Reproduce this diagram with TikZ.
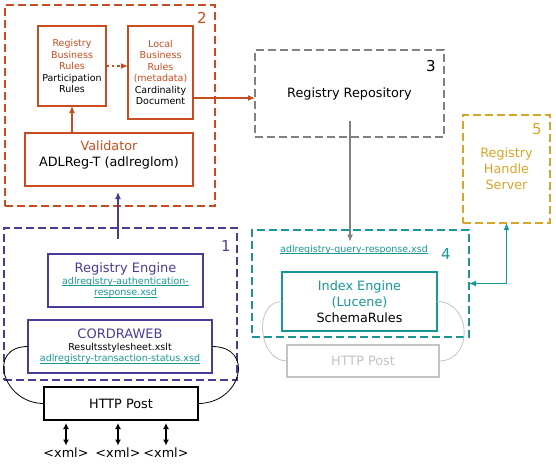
\documentclass[tikz,border=0pt]{standalone}
\usepackage{fontspec}
\setmainfont{DejaVu Sans}
\usetikzlibrary{arrows.meta}
\definecolor{rust}{RGB}{200,76,30}
\definecolor{navy}{RGB}{70,62,150}
\definecolor{sea}{RGB}{25,150,150}
\definecolor{gold}{RGB}{215,165,40}
\definecolor{ash}{RGB}{128,128,128}
\definecolor{mist}{RGB}{195,195,195}
\newcommand{\lnk}[1]{{\color{sea}\setbox0\hbox{#1}\rlap{\rule[-1.4pt]{\wd0}{.55pt}}\box0}}
\newcommand{\blk}{\color{black}}
\newcommand{\hd}{\fontsize{13}{16}\selectfont}
\begin{document}
\begin{tikzpicture}[x=1pt,y=-1pt,line width=1.1pt,
    sm/.style={font=\fontsize{9.5}{11.5}\selectfont,align=center},
    md/.style={font=\fontsize{12.8}{16}\selectfont,align=center},
    num/.style={font=\fontsize{15}{15}\selectfont},
    grp/.style={draw=#1,dash pattern=on 8pt off 4pt,line width=1.2pt,inner sep=0pt,outer sep=0pt},
    box/.style={draw=#1,inner sep=0pt,outer sep=0pt},
    tip/.style={-{Latex[length=7pt,width=6pt]}}]

      \useasboundingbox (0,0) rectangle (556,463);

      % group 2
      \path (110,105.5) node[grp=rust,minimum width=210pt,minimum height=201pt] (b2) {};
      \path (202,18) node[num,text=rust] (n2) {2};
      \path (72,66) node[box=rust,sm,text=rust,minimum width=68pt,minimum height=80pt] (rb)
            {Registry\\Business\\Rules\\\blk Participation\\\blk Rules};
      \path (160.5,72.5) node[box=rust,sm,text=rust,minimum width=65pt,minimum height=93pt] (lb)
            {Local\\Business\\Rules\\(metadata)\\\blk Cardinality\\\blk Document};
      \path (109,159.5) node[box=rust,minimum width=168pt,minimum height=53pt] (va) {};
      \path (109,155) node[md,text=rust] (vt) {Validator\\\blk ADLReg-T (adlreglom)};

      % group 3
      \path (349.5,93.5) node[grp=ash,md,minimum width=189pt,minimum height=87pt] (b3) {Registry Repository};
      \path (431,66) node[num] (n3) {3};

      % group 5
      \path (506.5,169) node[grp=gold,md,text=gold,minimum width=87pt,minimum height=108pt] (b5) {Registry\\Handle\\Server};
      \path (537,129) node[num,text=gold] (n5) {5};

      % group 4
      \path (360.5,283.5) node[grp=sea,minimum width=217pt,minimum height=107pt] (b4) {};
      \path (446,254) node[num,text=sea] (n4) {4};
      \path (354,250) node[sm] (q) {\lnk{adlregistry-query-response.xsd}};
      \path (359.5,301.5) node[box=sea,md,text=sea,minimum width=155pt,minimum height=59pt] (ie)
            {Index Engine\\(Lucene)\\\blk SchemaRules};
      \path (363,361) node[box=mist,md,text=mist,minimum width=152pt,minimum height=32pt] (hq) {HTTP Post};

      % group 1
      \path (120.5,304) node[grp=navy,minimum width=233pt,minimum height=152pt] (b1) {};
      \path (226,246) node[num,text=navy] (n1) {1};
      \path (125.5,280.5) node[box=navy,sm,text=navy,minimum width=155pt,minimum height=53pt] (re)
            {\hd Registry Engine\\\lnk{adlregistry-authentication-}\\\lnk{response.xsd}};
      \path (120,346.5) node[box=navy,sm,text=navy,minimum width=184pt,minimum height=53pt] (cw)
            {\hd CORDRAWEB\\\blk Resultsstylesheet.xslt\\\lnk{adlregistry-transaction-status.xsd}};
      \path (121,403.5) node[box=black,md,minimum width=154pt,minimum height=33pt] (hp) {HTTP Post};
      \path (66,453) node[md,inner sep=1pt] (x1) {<xml>};
      \path (118,453) node[md,inner sep=1pt] (x2) {<xml>};
      \path (166,453) node[md,inner sep=1pt] (x3) {<xml>};

      \coordinate (o1) at ([yshift=-25.5pt]lb.east);
      \coordinate (u1) at (118,239);
      \coordinate (u2) at (118,192);
      \coordinate (g1) at (350,121);

      \draw[tip,rust] (va.north -| rb.south) -- (rb.south);
      \draw[tip,rust,line width=2.2pt,dash pattern=on 2.5pt off 3pt] (rb.east) -- (rb.east -| lb.west);
      \draw[tip,rust] (o1) -- (o1 -| b3.west);
      \draw[tip,navy] (u1) -- (u2);
      \draw[tip,ash] (g1) -- (g1 |- q.north);
      \draw[{Latex[length=7pt,width=6pt]}-{Latex[length=7pt,width=6pt]},sea] (b5.south) |- (b4.east);
      \foreach \i in {x1,x2,x3}
        \draw[{Latex[length=6pt,width=6pt]}-{Latex[length=6pt,width=6pt]},line width=2pt,shorten <=1pt,shorten >=3pt]
          (\i.north) -- (\i.north |- hp.south);

      \draw[line width=.8pt] (cw.west) to[out=180,in=180,looseness=1.8] (hp.west);
      \draw[line width=.8pt] (cw.east) to[out=0,in=0,looseness=1.9] (hp.east);
      \draw[line width=.8pt,mist] (ie.west) to[out=180,in=180,looseness=1.25] (hq.west);
      \draw[line width=.8pt,mist] (ie.east) to[out=0,in=0,looseness=1.5] (hq.east);
   \end{tikzpicture}
\end{document}
